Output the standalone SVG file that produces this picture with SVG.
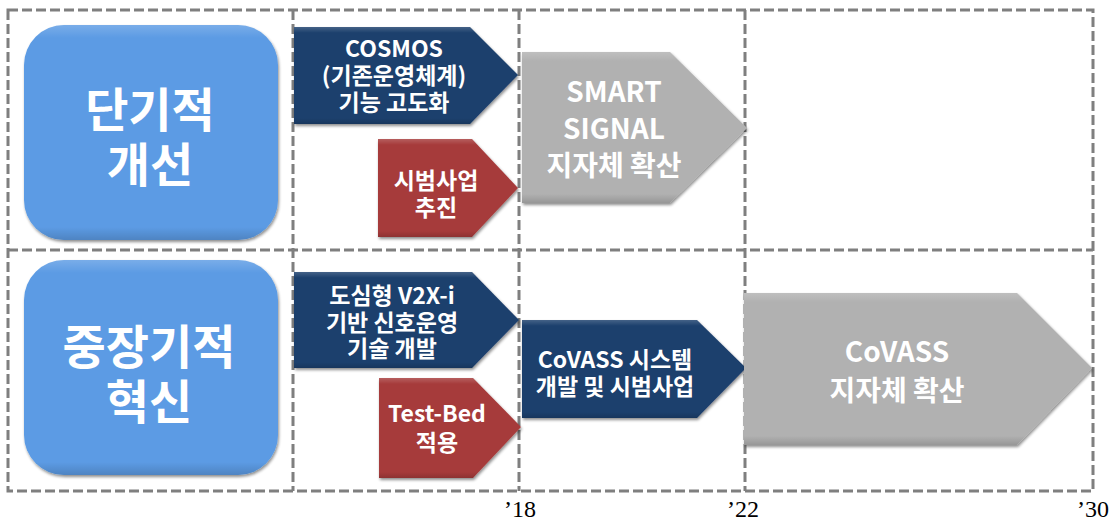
<svg xmlns="http://www.w3.org/2000/svg" width="1113" height="522" viewBox="0 0 1113 522">
<defs>
<style>
.grid{fill:none;stroke:#7f7f7f;stroke-width:3;stroke-dasharray:10 4}
.t{font-family:"Noto Sans CJK KR","Noto Sans",sans-serif;font-weight:bold;fill:#ffffff;text-anchor:middle}
.big{font-size:47px}
.mid{font-size:23px}
.lg{font-size:28px}
.yr{font-family:"Liberation Serif",serif;font-size:24px;fill:#000000}
.blue{fill:#1d3f6d}
.red{fill:#a63b3b}
.gray{fill:#b1b1b1}
.sky{fill:#5b9be4}
</style>
<filter id="sh" x="-10%" y="-10%" width="120%" height="130%">
<feGaussianBlur in="SourceAlpha" stdDeviation="1.5"/>
<feOffset dx="1" dy="2" result="b"/>
<feComponentTransfer><feFuncA type="linear" slope="0.45"/></feComponentTransfer>
<feMerge><feMergeNode/><feMergeNode in="SourceGraphic"/></feMerge>
</filter>
<linearGradient id="bev" x1="0" y1="0" x2="0" y2="1">
<stop offset="0" stop-color="#ffffff" stop-opacity="0.18"/>
<stop offset="0.06" stop-color="#ffffff" stop-opacity="0"/>
<stop offset="0.94" stop-color="#000000" stop-opacity="0"/>
<stop offset="1" stop-color="#000000" stop-opacity="0.15"/>
</linearGradient>
</defs>
<rect width="1113" height="522" fill="#ffffff"/>
<g id="grid">
<rect class="grid" x="8" y="10" width="1085" height="481"/>
<line class="grid" x1="8" y1="250" x2="1093" y2="250"/>
<line class="grid" x1="293" y1="10" x2="293" y2="491"/>
<line class="grid" x1="519" y1="10" x2="519" y2="491"/>
<line class="grid" x1="745" y1="10" x2="745" y2="491"/>
</g>
<g id="short-term">
<rect class="sky" x="24" y="25" width="254" height="215" rx="40" filter="url(#sh)"/>
<rect x="24" y="25" width="254" height="215" rx="40" fill="url(#bev)"/>
<text class="t big" x="150" y="127">단기적</text>
<text class="t big" x="150" y="182">개선</text>
</g>
<g id="long-term">
<rect class="sky" x="24" y="260" width="254" height="215" rx="40" filter="url(#sh)"/>
<rect x="24" y="260" width="254" height="215" rx="40" fill="url(#bev)"/>
<text class="t big" x="149" y="364">중장기적</text>
<text class="t big" x="149" y="419">혁신</text>
</g>
<g id="cosmos">
<polygon class="blue" points="294,27 470,27 518,75 470,124 294,124" filter="url(#sh)"/>
<polygon points="294,27 470,27 518,75 470,124 294,124" fill="url(#bev)"/>
<text class="t mid" x="394" y="57">COSMOS</text>
<text class="t mid" x="394" y="84">(기존운영체계)</text>
<text class="t mid" x="394" y="111">기능 고도화</text>
</g>
<g id="pilot1">
<polygon class="red" points="378,139 472,139 518,188 472,237 378,237" filter="url(#sh)"/>
<polygon points="378,139 472,139 518,188 472,237 378,237" fill="url(#bev)"/>
<text class="t mid" x="436" y="189">시범사업</text>
<text class="t mid" x="436" y="216">추진</text>
</g>
<g id="smart-signal">
<polygon class="gray" points="522,52 670,52 747,128 670,203 522,203" filter="url(#sh)"/>
<polygon points="522,52 670,52 747,128 670,203 522,203" fill="url(#bev)"/>
<text class="t lg" x="614" y="102">SMART</text>
<text class="t lg" x="614" y="139">SIGNAL</text>
<text class="t lg" x="614" y="176">지자체 확산</text>
</g>
<g id="v2x">
<polygon class="blue" points="294,272 472,272 519,320 472,368 294,368" filter="url(#sh)"/>
<polygon points="294,272 472,272 519,320 472,368 294,368" fill="url(#bev)"/>
<text class="t mid" x="392" y="304">도심형 V2X-i</text>
<text class="t mid" x="392" y="331">기반 신호운영</text>
<text class="t mid" x="392" y="357">기술 개발</text>
</g>
<g id="testbed">
<polygon class="red" points="379,378 473,378 521,427 473,478 379,478" filter="url(#sh)"/>
<polygon points="379,378 473,378 521,427 473,478 379,478" fill="url(#bev)"/>
<text class="t mid" x="437" y="422">Test-Bed</text>
<text class="t mid" x="437" y="451">적용</text>
</g>
<g id="covass-dev">
<polygon class="blue" points="522,320 697,320 746,368 697,418 522,418" filter="url(#sh)"/>
<polygon points="522,320 697,320 746,368 697,418 522,418" fill="url(#bev)"/>
<text class="t mid" x="615" y="368">CoVASS 시스템</text>
<text class="t mid" x="615" y="395">개발 및 시범사업</text>
</g>
<g id="covass-spread">
<polygon class="gray" points="744,293 1017,293 1092,368 1017,445 744,445" filter="url(#sh)"/>
<polygon points="744,293 1017,293 1092,368 1017,445 744,445" fill="url(#bev)"/>
<text class="t lg" x="897" y="362">CoVASS</text>
<text class="t lg" x="897" y="401">지자체 확산</text>
</g>
<g id="years">
<text class="yr" x="504" y="517">’18</text>
<text class="yr" x="727" y="517">’22</text>
<text class="yr" x="1077" y="517">’30</text>
</g>
</svg>
